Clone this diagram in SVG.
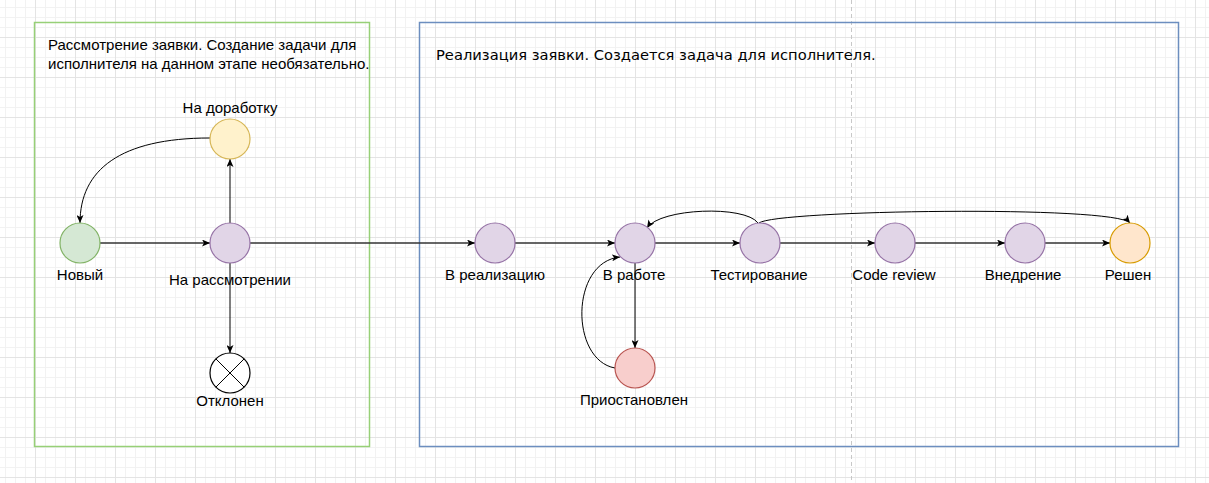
<svg xmlns="http://www.w3.org/2000/svg" width="1209" height="483" viewBox="0 0 1209 483">
<defs>
<pattern id="grid" x="-5" y="-3" width="40" height="40" patternUnits="userSpaceOnUse">
<path d="M0,10.5 H40 M0,20.5 H40 M0,30.5 H40 M10.5,0 V40 M20.5,0 V40 M30.5,0 V40" stroke="#f2f2f2" stroke-width="1" fill="none"/>
<path d="M0,0.5 H40 M0.5,0 V40" stroke="#e4e4e4" stroke-width="1" fill="none"/>
</pattern>
<marker id="arr" viewBox="0 0 8 7" refX="8" refY="3.5" markerWidth="8" markerHeight="7" markerUnits="userSpaceOnUse" orient="auto">
<path d="M0,0 L8,3.5 L0,7 L2,3.5 z" fill="#000"/>
</marker>
<style>
.t{font-family:"Liberation Sans",Arial,sans-serif;font-size:15px;fill:#000;}
.lbl{text-anchor:middle;}
.e{fill:none;stroke:#000;stroke-width:1;marker-end:url(#arr);}
.eh{fill:none;stroke:#333;stroke-width:1.4;marker-end:url(#arr);}
.purple{fill:#e1d5e7;stroke:#9673a6;stroke-width:1.2;}
</style>
</defs>
<rect x="0" y="0" width="1209" height="483" fill="#ffffff"/>
<rect x="0" y="0" width="1209" height="483" fill="url(#grid)"/>
<line x1="851.5" y1="0" x2="851.5" y2="483" stroke="#c8c8c8" stroke-width="1" stroke-dasharray="4,3"/>

<g id="container-review">
<rect x="34.5" y="22.5" width="335" height="424" fill="none" stroke="#97d077" stroke-width="1.5"/>
<text class="t" x="48" y="50">Рассмотрение заявки. Создание задачи для</text>
<text class="t" x="48" y="69">исполнителя на данном этапе необязательно.</text>
</g>
<g id="container-impl">
<rect x="419.5" y="22.5" width="759" height="424" fill="none" stroke="#6c8ebf" stroke-width="1.5"/>
<text x="436" y="60" style="font-family:'DejaVu Sans',Verdana,sans-serif;font-size:14.7px;fill:#000">Реализация заявки. Создается задача для исполнителя.</text>
</g>

<g id="connectors">
<path class="eh" d="M100,243 H210"/>
<path class="eh" d="M250,243 H475"/>
<path class="e" d="M230,223 V159"/>
<path class="e" d="M210,138 C120,138 80,170 80,223"/>
<path class="e" d="M230,263 V353"/>
<path class="eh" d="M515,243 H615"/>
<path class="eh" d="M655,243 H740"/>
<path class="eh" d="M780,243 H875"/>
<path class="eh" d="M915,243 H1005"/>
<path class="eh" d="M1045,243 H1110"/>
<path class="e" d="M635,263 V348"/>
<path class="e" d="M615,368 C570,360 570,262 620,257"/>
<path class="e" d="M758,223 C745,205 660,208 647,228"/>
<path class="e" d="M759,223 C775,210 1115,205 1130,223"/>
</g>

<g id="node-new">
<circle cx="80" cy="243" r="20" fill="#d5e8d4" stroke="#82b366" stroke-width="1.2"/>
<text class="t lbl" x="80" y="280">Новый</text>
</g>
<g id="node-review">
<circle cx="230" cy="243" r="20" class="purple"/>
<text class="t lbl" x="230" y="285">На рассмотрении</text>
</g>
<g id="node-rework">
<circle cx="230" cy="139" r="20" fill="#fff2cc" stroke="#d6b656" stroke-width="1.2"/>
<text class="t lbl" x="230" y="113">На доработку</text>
</g>
<g id="node-rejected">
<circle cx="230" cy="373" r="20" fill="#ffffff" stroke="#000" stroke-width="1.2"/>
<path d="M215.9,358.9 L244.1,387.1 M244.1,358.9 L215.9,387.1" stroke="#000" stroke-width="1"/>
<text class="t lbl" x="230" y="406">Отклонен</text>
</g>
<g id="node-torealize">
<circle cx="495" cy="243" r="20" class="purple"/>
<text class="t lbl" x="495" y="280">В реализацию</text>
</g>
<g id="node-inwork">
<circle cx="635" cy="243" r="20" class="purple"/>
<text class="t lbl" x="634" y="280">В работе</text>
</g>
<g id="node-paused">
<circle cx="635" cy="368" r="20" fill="#f8cecc" stroke="#b85450" stroke-width="1.2"/>
<text class="t lbl" x="634" y="405">Приостановлен</text>
</g>
<g id="node-testing">
<circle cx="760" cy="243" r="20" class="purple"/>
<text class="t lbl" x="759" y="280">Тестирование</text>
</g>
<g id="node-codereview">
<circle cx="895" cy="243" r="20" class="purple"/>
<text class="t lbl" x="894" y="280">Code review</text>
</g>
<g id="node-deploy">
<circle cx="1025" cy="243" r="20" class="purple"/>
<text class="t lbl" x="1023" y="280">Внедрение</text>
</g>
<g id="node-solved">
<circle cx="1130" cy="243" r="20" fill="#ffe6cc" stroke="#d79b00" stroke-width="1.2"/>
<text class="t lbl" x="1128" y="280">Решен</text>
</g>
</svg>
